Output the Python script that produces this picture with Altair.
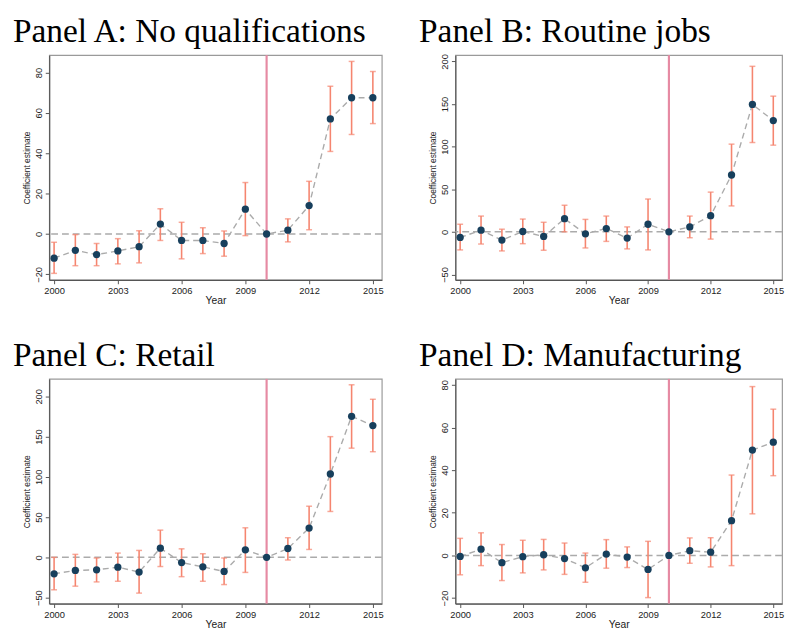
import altair as alt
import pandas as pd

years = list(range(2000, 2016))

# Panel A: No qualifications
a_est = [-12.0, -8.1, -10.2, -8.4, -6.3, 4.9, -3.2, -3.2, -4.7, 12.3, 0.0, 1.9, 14.1, 57.0, 67.5, 67.5]
a_lo = [-19.5, -15.7, -15.7, -14.8, -14.3, -3.2, -12.3, -9.7, -11.0, -0.8, 0.0, -3.9, 2.1, 40.9, 49.3, 54.7]
a_hi = [-4.1, -0.3, -4.7, -2.3, 1.6, 12.5, 5.8, 3.1, 1.5, 25.5, 0.0, 7.5, 26.1, 73.2, 85.5, 80.5]

# Panel B: Routine jobs
b_est = [-6.6, 1.9, -9.6, 0.4, -5.4, 15.4, -2.3, 3.9, -7.3, 8.9, 0.0, 5.8, 18.9, 66.7, 149.5, 130.6]
b_lo = [-21.2, -14.3, -22.4, -13.9, -21.6, 0.0, -18.9, -11.2, -20.0, -21.2, 0.0, -6.9, -8.5, 30.4, 104.8, 101.7]
b_hi = [8.9, 18.5, 3.1, 15.0, 11.2, 31.2, 14.6, 18.5, 5.8, 38.5, 0.0, 18.5, 46.6, 102.9, 194.2, 159.2]

# Panel C: Retail
c_est = [-20.4, -16.3, -15.5, -12.2, -18.3, 11.4, -6.5, -11.8, -17.5, 9.4, 0.0, 11.0, 36.3, 103.5, 175.2, 163.7]
c_lo = [-40.3, -35.8, -30.5, -29.7, -44.4, -11.4, -24.0, -29.7, -33.8, -18.7, 0.0, -3.3, 9.8, 57.0, 135.6, 131.2]
c_hi = [0.0, 3.7, -0.8, 5.3, 8.6, 33.8, 10.6, 4.5, -0.8, 36.7, 0.0, 24.4, 63.5, 149.9, 214.3, 196.3]

# Panel D: Manufacturing
d_est = [-0.5, 2.9, -3.4, -0.6, 0.3, -1.5, -5.8, 0.6, -0.8, -6.6, 0.0, 2.2, 1.5, 16.3, 49.4, 53.1]
d_lo = [-9.1, -4.8, -11.8, -8.2, -6.8, -8.9, -12.6, -6.0, -5.7, -19.8, 0.0, -3.7, -5.4, -4.8, 19.5, 37.4]
d_hi = [8.0, 10.6, 5.1, 7.1, 7.5, 5.8, 1.1, 7.4, 4.0, 6.6, 0.0, 8.2, 8.3, 37.7, 79.2, 68.6]

x_ticks = [2000, 2003, 2006, 2009, 2012, 2015]
treat_year = 2010

POINT = "#173f5c"
CI = "#f5856f"
VLINE = "#e68aa3"
GRAY = "#ababab"


def panel(title, est, lo, hi, ydom, yticks, width):
    df = pd.DataFrame({"year": years, "est": est, "lo": lo, "hi": hi})
    base = alt.Chart(df)
    xenc = alt.X("year:Q", title="Year",
                 scale=alt.Scale(domain=[1999.77, 2015.42], nice=False, zero=False),
                 axis=alt.Axis(values=x_ticks, format="d"))
    yscale = alt.Scale(domain=ydom, nice=False, zero=False)
    yaxis = alt.Axis(values=yticks, labelAngle=270, labelAlign="center",
                     labelBaseline="bottom", title="Coefficient estimate")

    zero = alt.Chart(pd.DataFrame({"z": [0]})).mark_rule(
        color=GRAY, strokeDash=[7, 4], strokeWidth=1.5
    ).encode(y=alt.Y("z:Q", scale=yscale, axis=yaxis))
    vline = alt.Chart(pd.DataFrame({"t": [treat_year]})).mark_rule(
        color=VLINE, strokeWidth=2.2
    ).encode(x=alt.X("t:Q"))
    cidata = base.transform_filter("datum.lo != datum.hi")
    bars = cidata.mark_rule(color=CI, strokeWidth=1.6).encode(
        x=xenc, y=alt.Y("lo:Q", scale=yscale, axis=yaxis), y2="hi:Q")
    cap_lo = cidata.mark_tick(color=CI, orient="horizontal", size=6, thickness=1.5).encode(
        x="year:Q", y="lo:Q")
    cap_hi = cidata.mark_tick(color=CI, orient="horizontal", size=6, thickness=1.5).encode(
        x="year:Q", y="hi:Q")
    line = base.mark_line(color=GRAY, strokeDash=[6, 4], strokeWidth=1.4).encode(
        x="year:Q", y="est:Q")
    pts = base.mark_circle(color=POINT, opacity=1, size=55).encode(
        x="year:Q", y="est:Q")

    return alt.layer(zero, bars, vline, cap_lo, cap_hi, line, pts).properties(
        width=width, height=229,
        title=alt.TitleParams(title, anchor="start", frame="group", dx=-37,
                              font="Liberation Serif", fontSize=34,
                              fontWeight="normal", color="black", offset=5),
    )


pA = panel("Panel A: No qualifications", a_est, a_lo, a_hi, [-22.7, 88.6], [-20, 0, 20, 40, 60, 80], 339)
pB = panel("Panel B: Routine jobs", b_est, b_lo, b_hi, [-56.3, 207.3], [-50, 0, 50, 100, 150, 200], 333)
pC = panel("Panel C: Retail", c_est, c_lo, c_hi, [-57.4, 221.6], [-50, 0, 50, 100, 150, 200], 339)
pD = panel("Panel D: Manufacturing", d_est, d_lo, d_hi, [-22.6, 82.8], [-20, 0, 20, 40, 60, 80], 333)

chart = alt.vconcat(
    alt.hconcat(pA, pB, spacing=34),
    alt.hconcat(pC, pD, spacing=34),
    spacing=32,
).properties(
    padding={"left": 4, "top": 0, "right": 0, "bottom": 0}
).configure_view(
    stroke="#9a9a9a", strokeWidth=1.2
).configure_axis(
    grid=False, domainColor="#555555", domainWidth=1.2, tickColor="#555555",
    tickSize=4, labelFont="Liberation Sans", labelFontSize=9.5, labelColor="#222222",
    labelPadding=2, titleFont="Liberation Sans", titleFontWeight="normal",
    titleColor="#222222"
).configure_axisY(
    titleFontSize=8.5, titlePadding=2
).configure_axisX(
    titleFontSize=10.5, titlePadding=1
)

chart.save("out.html", embed_options={"renderer": "svg", "actions": False})
